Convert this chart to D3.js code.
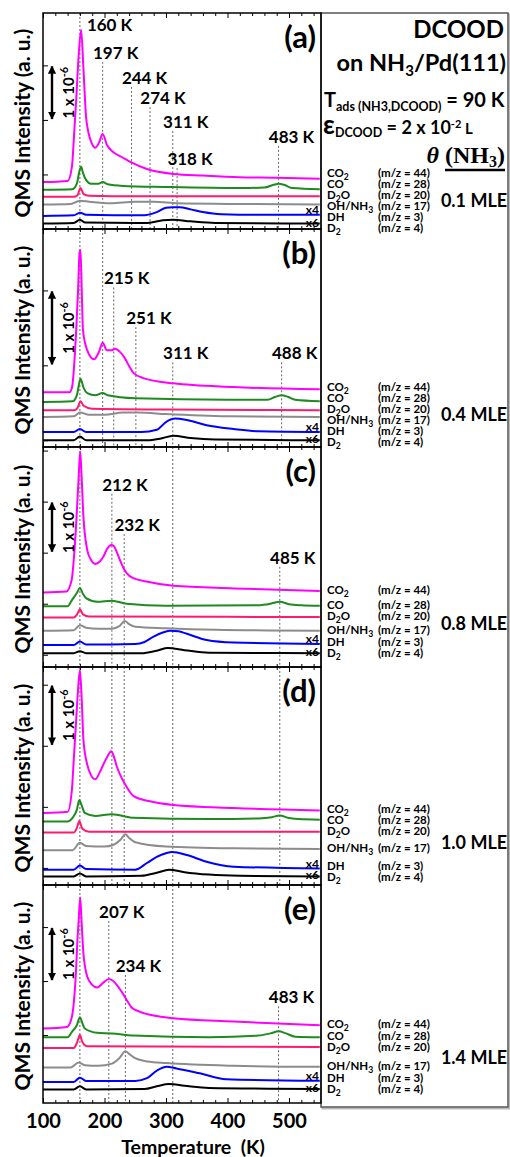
<!DOCTYPE html>
<html lang="en">
<head>
<meta charset="UTF-8">
<title>DCOOD on NH3/Pd(111) TPD</title>
<script src="https://d3js.org/d3.v7.min.js"></script>
<style>
  body { margin: 0; background: #fff; }
  svg { display: block; font-family: Lato, "Open Sans", sans-serif; font-weight: bold; }
  .guide { stroke: #666; stroke-width: 1; stroke-dasharray: 2,2; }
  .trace { fill: none; stroke-width: 2; stroke-linejoin: round; }
  .tick line { stroke: #000; stroke-width: 1; }
</style>
</head>
<body>
<div id="chart"></div>
<script>
// ---- data ----
const species = ["CO2", "CO", "D2O", "OH/NH3", "DH", "D2"];
const massCharge = [44, 28, 20, 17, 3, 4];
const colors = ["#ff00ff", "#1f8a1f", "#ff1a6e", "#8c8c8c", "#0000ff", "#000000"];
const coverages = ["0.1 MLE", "0.4 MLE", "0.8 MLE", "1.0 MLE", "1.4 MLE"];
const panelLetters = ["(a)", "(b)", "(c)", "(d)", "(e)"];
const xTicks = [100, 200, 300, 400, 500];
// intensity in units of 1e-6 a.u., one scale per panel
const yMax = [3.96, 2.91, 4.31, 3.57, 4.04];
const yTickStart = [0, 0.09, 0.24, 0.28, 0.26];
const scaleBarFrom = [2, 1.09, 2.24, 2.28, 2.26];

// [temperature K, intensity]
const a_CO2 = [[100,0.86],[140,0.88],[147,1.14],[150.5,1.72],[154,2.37],[158,3.19],[162,3.65],[165.6,2.97],[170,2.06],[174,1.76],[179,1.58],[185,1.49],[191,1.58],[197,1.74],[204,1.54],[214,1.41],[228,1.32],[242,1.23],[269,1.10],[312,1.01],[360,0.98],[420,0.95],[480,0.94],[550,0.92]];
const a_CO = [[100,0.72],[148,0.73],[155,0.83],[159,1.05],[162,1.14],[165,1.03],[170,0.90],[178,0.83],[190,0.83],[197,0.86],[205,0.82],[230,0.79],[300,0.77],[420,0.75],[460,0.76],[475,0.81],[483,0.83],[492,0.81],[505,0.75],[550,0.73]];
const a_D2O = [[100,0.59],[150,0.59],[156,0.62],[161,0.75],[166,0.64],[175,0.61],[250,0.60],[550,0.60]];
const a_OH = [[100,0.45],[145,0.46],[160,0.52],[175,0.50],[210,0.47],[250,0.50],[280,0.50],[320,0.47],[400,0.46],[550,0.45]];
const a_DH = [[100,0.24],[150,0.25],[160,0.30],[170,0.26],[260,0.25],[285,0.31],[300,0.39],[311,0.40],[322,0.40],[340,0.36],[360,0.31],[390,0.27],[450,0.26],[550,0.26]];
const a_D2 = [[100,0.10],[150,0.11],[160,0.17],[168,0.12],[270,0.11],[295,0.16],[311,0.17],[340,0.14],[380,0.11],[550,0.10]];

const b_CO2 = [[100,0.73],[143,0.73],[147,0.79],[154,1.56],[157,2.09],[159.5,2.60],[161,2.63],[163,2.09],[165,1.56],[172,1.29],[183,1.17],[191,1.27],[197,1.39],[204,1.29],[211,1.29],[217,1.31],[225,1.27],[232,1.20],[240,1.08],[247,0.99],[263,0.92],[312,0.85],[410,0.80],[550,0.77]];
const b_CO = [[100,0.60],[148,0.61],[155,0.69],[161,0.91],[166,0.79],[172,0.72],[185,0.69],[197,0.72],[205,0.69],[250,0.65],[400,0.63],[465,0.63],[478,0.67],[488,0.69],[498,0.67],[510,0.63],[550,0.61]];
const b_D2O = [[100,0.49],[150,0.49],[156,0.52],[161,0.61],[166,0.55],[180,0.51],[300,0.50],[550,0.49]];
const b_OH = [[100,0.40],[150,0.41],[160,0.46],[175,0.43],[200,0.43],[230,0.46],[255,0.46],[300,0.44],[400,0.41],[550,0.40]];
const b_DH = [[100,0.20],[150,0.20],[160,0.24],[170,0.20],[260,0.20],[285,0.23],[301,0.34],[315,0.38],[334,0.36],[366,0.29],[410,0.24],[450,0.21],[550,0.20]];
const b_D2 = [[100,0.09],[150,0.09],[160,0.14],[170,0.09],[270,0.09],[290,0.11],[312,0.15],[340,0.12],[380,0.10],[550,0.09]];

const c_CO2 = [[100,1.46],[138,1.48],[146.7,1.71],[150,2.10],[153.7,2.75],[158,3.73],[160.5,4.22],[163,3.67],[165.7,2.95],[172,2.29],[178,2.10],[185,2.02],[192,2.06],[198,2.16],[205,2.33],[211,2.39],[215,2.37],[220,2.25],[225,2.10],[230,1.96],[236,1.84],[247,1.74],[270,1.67],[312,1.59],[410,1.54],[550,1.49]];
const c_CO = [[100,1.19],[140,1.19],[147,1.31],[155,1.45],[160,1.55],[165,1.43],[170,1.35],[188,1.28],[212,1.30],[236,1.24],[300,1.20],[450,1.21],[470,1.24],[485,1.28],[500,1.23],[520,1.21],[550,1.20]];
const c_D2O = [[100,0.97],[150,0.97],[155,1.02],[160,1.13],[165,1.03],[175,0.99],[550,0.98]];
const c_OH = [[100,0.71],[150,0.72],[160,0.82],[170,0.77],[190,0.75],[212,0.75],[224,0.80],[233,0.90],[240,0.84],[250,0.79],[300,0.76],[380,0.73],[550,0.71]];
const c_DH = [[100,0.43],[150,0.43],[160,0.50],[170,0.44],[250,0.45],[265,0.49],[279,0.59],[296,0.68],[307,0.71],[320,0.70],[334,0.65],[366,0.53],[410,0.48],[550,0.45]];
const c_D2 = [[100,0.27],[150,0.27],[160,0.31],[170,0.27],[260,0.27],[285,0.32],[303,0.37],[330,0.33],[370,0.28],[550,0.27]];

const d_CO2 = [[100,1.18],[140,1.20],[147,1.56],[150,2.05],[153.7,2.66],[157,3.20],[160,3.52],[163,3.03],[165.7,2.38],[172,1.97],[178,1.80],[185,1.73],[192,1.84],[198,1.97],[205,2.11],[211,2.19],[215,2.11],[220,1.94],[227,1.77],[234,1.64],[247,1.46],[274,1.37],[312,1.31],[410,1.26],[550,1.22]];
const d_CO = [[100,1.04],[140,1.04],[148,1.10],[155,1.23],[159,1.39],[163,1.30],[168,1.18],[185,1.13],[212,1.16],[247,1.10],[370,1.08],[450,1.09],[472,1.11],[485,1.14],[498,1.10],[515,1.08],[550,1.07]];
const d_D2O = [[100,0.86],[150,0.86],[155,0.93],[159,1.05],[164,0.92],[175,0.87],[550,0.87]];
const d_OH = [[100,0.57],[148,0.57],[160,0.69],[170,0.64],[200,0.63],[215,0.66],[226,0.74],[234,0.83],[240,0.77],[250,0.70],[300,0.63],[410,0.60],[550,0.59]];
const d_DH = [[100,0.25],[150,0.25],[160,0.32],[170,0.26],[250,0.25],[269,0.36],[285,0.46],[300,0.52],[310,0.54],[334,0.49],[366,0.38],[410,0.30],[550,0.27]];
const d_D2 = [[100,0.14],[150,0.14],[160,0.19],[170,0.14],[260,0.15],[285,0.20],[305,0.25],[330,0.21],[370,0.17],[420,0.15],[550,0.14]];

const e_CO2 = [[100,1.38],[139,1.41],[147,1.60],[150.5,1.91],[153.7,2.46],[156,3.02],[158,3.39],[160.5,3.81],[163,3.30],[165.7,2.77],[172,2.34],[180,2.19],[188,2.14],[198,2.23],[207,2.30],[213,2.27],[220,2.19],[228,2.06],[236,1.91],[244,1.77],[258,1.69],[280,1.62],[312,1.57],[410,1.51],[550,1.44]];
const e_CO = [[100,1.22],[140,1.22],[147,1.32],[155,1.44],[160,1.59],[164,1.48],[168,1.38],[188,1.30],[212,1.29],[247,1.25],[370,1.22],[450,1.25],[470,1.29],[483,1.33],[495,1.29],[510,1.23],[550,1.22]];
const e_D2O = [[100,1.02],[150,1.02],[155,1.11],[160,1.26],[164,1.13],[172,1.05],[550,1.04]];
const e_OH = [[100,0.66],[145,0.66],[158,0.75],[168,0.70],[190,0.69],[212,0.73],[224,0.83],[234,0.96],[240,0.91],[250,0.83],[270,0.77],[301,0.74],[410,0.69],[550,0.67]];
const e_DH = [[100,0.39],[150,0.39],[160,0.47],[170,0.41],[250,0.41],[269,0.46],[285,0.60],[301,0.67],[317,0.64],[355,0.55],[398,0.44],[550,0.41]];
const e_D2 = [[100,0.25],[150,0.25],[160,0.31],[170,0.25],[265,0.26],[285,0.31],[305,0.35],[330,0.32],[370,0.28],[550,0.26]];

const panelSeries = [
  [a_CO2, a_CO, a_D2O, a_OH, a_DH, a_D2],
  [b_CO2, b_CO, b_D2O, b_OH, b_DH, b_D2],
  [c_CO2, c_CO, c_D2O, c_OH, c_DH, c_D2],
  [d_CO2, d_CO, d_D2O, d_OH, d_DH, d_D2],
  [e_CO2, e_CO, e_D2O, e_OH, e_DH, e_D2]
];

// peak markers: [temperature, height of label in intensity units]
const peaksA = [[160,3.74],[197,3.23],[244,2.77],[274,2.40],[311,1.96],[318,1.28],[483,1.69]];
const peaksB = [[215,2.25],[251,1.72],[311,1.25],[488,1.25]];
const peaksC = [[212,3.57],[232,2.78],[485,2.14]];
const peaksD = [];
const peaksE = [[207,3.54],[234,2.54],[483,1.96]];
const panelPeaks = [peaksA, peaksB, peaksC, peaksD, peaksE];
// guide lines running the full panel height
const fullLines = [[160], [160,197], [160,311], [160,212,232,311,485], [160,311]];

// ---- layout ----
const W = 510, H = 1157;
const plotLeft = 43, plotRight = 321;
const panelEdges = [13, 229, 447, 667, 885, 1103];

const svg = d3.select('#chart').append('svg').attr('width', W).attr('height', H);
svg.append('rect').attr('width', W).attr('height', H).attr('fill', '#fff');

const defs = svg.append('defs');
defs.append('marker')
  .attr('id', 'head')
  .attr('viewBox', '0 0 10 10')
  .attr('refX', 9).attr('refY', 5)
  .attr('markerWidth', 3.4).attr('markerHeight', 3.4)
  .attr('orient', 'auto-start-reverse')
  .append('path').attr('d', 'M0,0L10,5L0,10z').attr('fill', '#000');

const x = d3.scaleLinear().domain([100, 552]).range([plotLeft, plotRight]);

// writes text pieces with their own size / vertical shift
function addRuns(text, runs) {
  let shift = 0;
  runs.forEach(([s, o]) => {
    o = o || {};
    const want = o.shift || 0;
    text.append('tspan')
      .attr('dy', want - shift)
      .attr('font-size', o.size || null)
      .attr('font-family', o.family || null)
      .attr('font-style', o.style || null)
      .text(s);
    shift = want;
  });
}
function formulaRuns(str) {
  return str.split(/(\d+)/).filter(s => s).map(s => /^\d+$/.test(s) ? [s, { size: '0.75em', shift: 3 }] : [s]);
}
function spread(vals, gap) {
  const v = vals.slice();
  for (let it = 0; it < 80; it++) {
    for (let k = 1; k < v.length; k++) {
      const d = v[k] - v[k - 1];
      if (d < gap) { const m = (gap - d) / 2; v[k - 1] -= m; v[k] += m; }
    }
  }
  return v;
}

// right info box
svg.append('rect')
  .attr('x', plotRight + 1.5).attr('y', panelEdges[0] + 1.5)
  .attr('width', 508 - plotRight).attr('height', 1107 - panelEdges[0])
  .attr('fill', 'none').attr('stroke', '#bbb').attr('stroke-width', 2);
svg.append('rect')
  .attr('x', plotRight).attr('y', panelEdges[0])
  .attr('width', 508 - plotRight).attr('height', 1107 - panelEdges[0])
  .attr('fill', '#fff').attr('stroke', '#555').attr('stroke-width', 1.5);

const line = d3.line().x(d => x(d[0])).curve(d3.curveMonotoneX);

panelSeries.forEach((series, i) => {
  const top = panelEdges[i], bottom = panelEdges[i + 1];
  const y = d3.scaleLinear().domain([0, yMax[i]]).range([bottom, top]);
  const g = svg.append('g');

  defs.append('clipPath').attr('id', 'clip' + i)
    .append('rect').attr('x', plotLeft).attr('y', top)
    .attr('width', plotRight - plotLeft).attr('height', bottom - top);

  // dashed guide lines
  fullLines[i].forEach(t => {
    g.append('line').attr('class', 'guide')
      .attr('x1', x(t)).attr('x2', x(t)).attr('y1', top).attr('y2', bottom);
  });
  panelPeaks[i].forEach(([t, v]) => {
    const full = fullLines[i].includes(t);
    if (!full) {
      g.append('line').attr('class', 'guide')
        .attr('x1', x(t)).attr('x2', x(t)).attr('y1', y(v) + 9).attr('y2', bottom);
    }
    g.append('text')
      .attr('x', full ? x(t) + 7 : x(t) + 13)
      .attr('y', y(v) + 6)
      .attr('text-anchor', full ? 'start' : 'middle')
      .attr('font-size', 17)
      .text(t + ' K');
  });

  // traces
  const traces = g.append('g').attr('clip-path', `url(#clip${i})`);
  series.forEach((s, k) => {
    traces.append('path').attr('class', 'trace')
      .attr('stroke', colors[k])
      .attr('d', line.y(d => y(d[1]))(s));
  });

  // x axis ticks on top and bottom of each panel (inward)
  const minor = d3.range(100, 552, 20).filter(t => t % 100 !== 0);
  g.append('g').attr('transform', `translate(0,${bottom})`)
    .call(d3.axisBottom(x).tickValues(xTicks).tickSize(-5).tickFormat(''))
    .call(a => a.select('.domain').remove());
  g.append('g').attr('transform', `translate(0,${bottom})`)
    .call(d3.axisBottom(x).tickValues(minor).tickSize(-3).tickFormat(''))
    .call(a => a.select('.domain').remove());
  g.append('g').attr('transform', `translate(0,${top})`)
    .call(d3.axisTop(x).tickValues(xTicks).tickSize(-5).tickFormat(''))
    .call(a => a.select('.domain').remove());
  g.append('g').attr('transform', `translate(0,${top})`)
    .call(d3.axisTop(x).tickValues(minor).tickSize(-3).tickFormat(''))
    .call(a => a.select('.domain').remove());

  // y axis ticks (no labels)
  g.append('g').attr('transform', `translate(${plotLeft},0)`)
    .call(d3.axisLeft(y).tickValues(d3.range(yTickStart[i], yMax[i], 1)).tickSize(-5).tickFormat(''))
    .call(a => a.select('.domain').remove());

  // frame
  g.append('rect')
    .attr('x', plotLeft).attr('y', top)
    .attr('width', plotRight - plotLeft).attr('height', bottom - top)
    .attr('fill', 'none').attr('stroke', '#000').attr('stroke-width', 1.5);

  // panel letter
  g.append('text')
    .attr('x', plotRight - 5).attr('y', top + 35)
    .attr('text-anchor', 'end').attr('font-size', 31)
    .text(panelLetters[i]);

  // y axis title
  g.append('text')
    .attr('transform', `translate(30,${(top + bottom) / 2 + 2}) rotate(-90)`)
    .attr('text-anchor', 'middle').attr('font-size', 21)
    .text('QMS Intensity (a. u.)');

  // scale bar 1 x 10^-6
  const sb0 = y(scaleBarFrom[i]), sb1 = y(scaleBarFrom[i] + 1);
  g.append('line')
    .attr('x1', 52).attr('x2', 52).attr('y1', sb0 - 1).attr('y2', sb1 + 1)
    .attr('stroke', '#000').attr('stroke-width', 2.4)
    .attr('marker-start', 'url(#head)').attr('marker-end', 'url(#head)');
  const sbText = g.append('text')
    .attr('transform', `translate(74,${(sb0 + sb1) / 2}) rotate(-90)`)
    .attr('text-anchor', 'middle').attr('font-size', 15);
  addRuns(sbText, [['1 x 10'], ['-6', { size: 11, shift: -6 }]]);

  // x4 / x6 multipliers
  const endY = series.map(s => y(s[s.length - 1][1]));
  const x4y = endY[4] - 1;
  const x6y = Math.min(bottom - 1, Math.max(endY[5] + 3, x4y + 10));
  g.append('text').attr('x', plotRight - 2).attr('y', x4y)
    .attr('text-anchor', 'end').attr('font-size', 12).text('x4');
  g.append('text').attr('x', plotRight - 2).attr('y', x6y)
    .attr('text-anchor', 'end').attr('font-size', 12).text('x6');

  // legend rows aligned with trace ends
  const rows = spread(endY, 11);
  species.forEach((sp, k) => {
    const t = g.append('text').attr('x', 327).attr('y', rows[k] + 3).attr('font-size', 11.5);
    addRuns(t, formulaRuns(sp));
    g.append('text').attr('x', 378).attr('y', rows[k] + 3).attr('font-size', 11.5)
      .text(`(m/z = ${massCharge[k]})`);
  });
  g.append('text')
    .attr('x', 474).attr('y', d3.mean(rows) + 6)
    .attr('text-anchor', 'middle').attr('font-size', 18)
    .text(coverages[i]);
});

// bottom tick labels and title
const last = panelEdges[panelEdges.length - 1];
svg.append('g').attr('transform', `translate(0,${last})`)
  .call(d3.axisBottom(x).tickValues(xTicks).tickSize(0).tickPadding(11))
  .call(a => a.select('.domain').remove())
  .call(a => a.selectAll('text').attr('font-size', 20).attr('font-family', 'Lato, sans-serif').attr('font-weight', 'bold').attr('fill', '#000'));
svg.append('text')
  .attr('x', 193).attr('y', 1154)
  .attr('text-anchor', 'middle').attr('font-size', 19.5)
  .text('Temperature\u00a0 (K)');

// header text in the box
svg.append('text').attr('x', 504).attr('y', 38).attr('text-anchor', 'end').attr('font-size', 24).text('DCOOD');
addRuns(svg.append('text').attr('x', 506).attr('y', 71).attr('text-anchor', 'end').attr('font-size', 23.5),
  [['on NH'], ['3', { size: 15, shift: 5 }], ['/Pd(111)', { shift: 0 }]]);
addRuns(svg.append('text').attr('x', 324).attr('y', 107).attr('font-size', 20),
  [['T'], ['ads (NH3,DCOOD)', { size: 12.5, shift: 4 }], [' = 90 K', { shift: 0 }]]);
addRuns(svg.append('text').attr('x', 323).attr('y', 134).attr('font-size', 18),
  [['\u03b5', { size: 26 }], ['DCOOD', { size: 12.5, shift: 3 }], [' = 2 x 10', { shift: 0 }], ['-2', { size: 11, shift: -6 }], [' L', { size: 15, shift: 0 }]]);

const nh3 = svg.append('text').attr('x', 505).attr('y', 163).attr('text-anchor', 'end')
  .attr('font-family', '"Liberation Serif", serif').attr('font-size', 24);
addRuns(nh3, [['(NH'], ['3', { size: 16, shift: 4 }], [')', { shift: 0 }]]);
const nb = nh3.node().getBBox();
svg.append('line').attr('x1', nb.x).attr('x2', nb.x + nb.width).attr('y1', 170).attr('y2', 170)
  .attr('stroke', '#000').attr('stroke-width', 2.5);
svg.append('text').attr('x', nb.x - 6).attr('y', 163).attr('text-anchor', 'end')
  .attr('font-family', '"Liberation Serif", serif').attr('font-style', 'italic').attr('font-size', 24)
  .text('\u03b8');
</script>
</body>
</html>
